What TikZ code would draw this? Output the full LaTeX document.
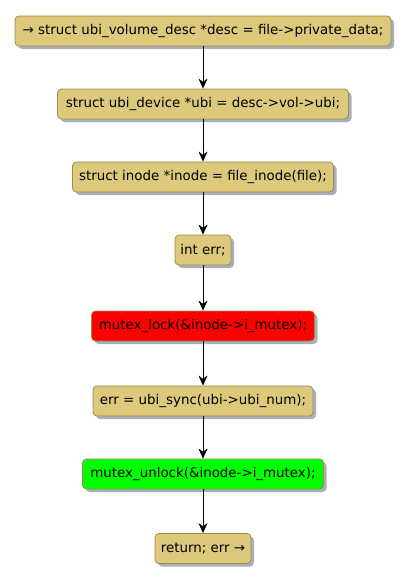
\documentclass[tikz,border=0pt]{standalone}
\usepackage{fontspec}
\setmainfont{DejaVu Sans}
\usetikzlibrary{arrows.meta,shadows}
\definecolor{actfill}{HTML}{DDC97C}
\definecolor{actborder}{HTML}{A0894A}
\definecolor{shadowc}{HTML}{A7AFBF}
\tikzset{
  act/.style={draw=actborder, line width=0.8pt, rounded corners=4pt, fill=actfill,
    minimum height=30pt, inner sep=0pt, font=\fontsize{13.4}{15}\selectfont,
    drop shadow={shadow xshift=3pt, shadow yshift=-3pt, fill=shadowc, opacity=1}},
  flow/.style={-{Stealth[length=10pt,width=9pt]}, line width=0.8pt}
}
\begin{document}
\begin{tikzpicture}[x=1pt,y=-1pt]
\useasboundingbox (0,0) rectangle (410,581);
\node[act, minimum width=376pt] (n1) at (203,31) {→ struct ubi\_volume\_desc *desc = file->private\_data;};
\node[act, minimum width=291pt] (n2) at (203,104) {struct ubi\_device *ubi = desc->vol->ubi;};
\node[act, minimum width=261pt] (n3) at (203,177) {struct inode *inode = file\_inode(file);};
\node[act, minimum width=56pt] (n4) at (203,250) {int err;};
\node[act, minimum width=223pt, fill=red] (n5) at (203,326) {mutex\_lock(\&inode->i\_mutex);};
\node[act, minimum width=220pt] (n6) at (203,401) {err = ubi\_sync(ubi->ubi\_num);};
\node[act, minimum width=241pt, fill=green] (n7) at (203,474) {mutex\_unlock(\&inode->i\_mutex);};
\node[act, minimum width=96pt] (n8) at (203,548.5) {return; err →};
\draw[flow] (n1) -- (n2);
\draw[flow] (n2) -- (n3);
\draw[flow] (n3) -- (n4);
\draw[flow] (n4) -- (n5);
\draw[flow] (n5) -- (n6);
\draw[flow] (n6) -- (n7);
\draw[flow] (n7) -- (n8);
\end{tikzpicture}
\end{document}
